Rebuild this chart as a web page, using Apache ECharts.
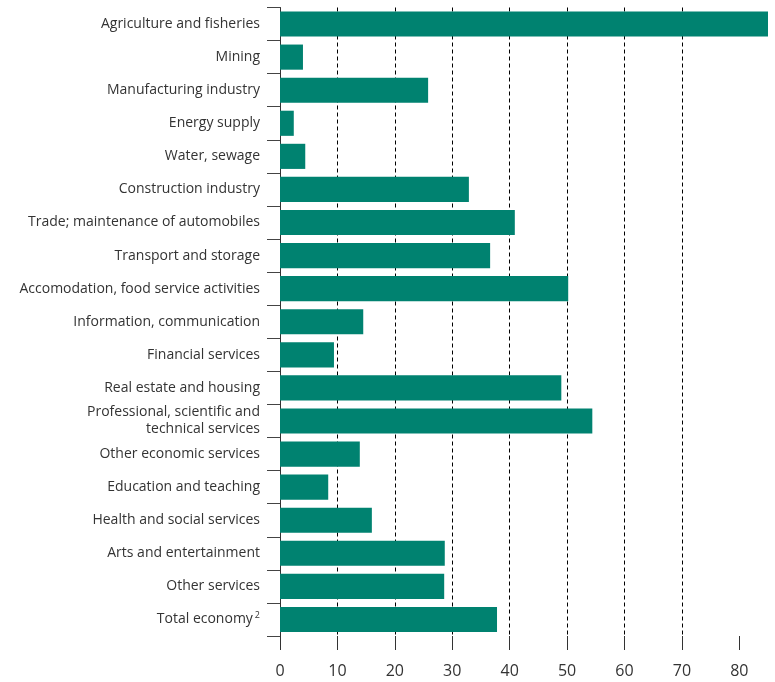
<!DOCTYPE html>
<html><head><meta charset="utf-8">
<script src="https://cdn.jsdelivr.net/npm/echarts@6/dist/echarts.min.js"></script>
<style>html,body{margin:0;padding:0;background:#fff}#c{width:775px;height:682px}</style>
</head><body><div id="c"></div>
<script>
const categories = [
  "Agriculture and fisheries","Mining","Manufacturing industry","Energy supply","Water, sewage",
  "Construction industry","Trade; maintenance of automobiles","Transport and storage",
  "Accomodation, food service activities","Information, communication","Financial services",
  "Real estate and housing","Professional, scientific and\ntechnical services","Other economic services",
  "Education and teaching","Health and social services","Arts and entertainment","Other services",
  "Total economy"
];
const values = [85, 4.0, 25.8, 2.4, 4.4, 32.9, 40.9, 36.6, 50.2, 14.5, 9.4, 49.0, 54.4, 13.9, 8.4, 16.0, 28.7, 28.6, 37.8];
const xTicks = [0,10,20,30,40,50,60,70,80];
const xMax = 85;

const chart = echarts.init(document.getElementById('c'), null, {renderer:'canvas'});
const font = '"Open Sans", sans-serif';
chart.setOption({
  animation:false,
  grid:{left:280,right:7,top:7.5,bottom:46,containLabel:false},
  xAxis:{type:'value',min:0,max:xMax,interval:10,
    axisLine:{show:false},
    axisTick:{show:true,length:14,inside:false,customValues:xTicks,lineStyle:{color:'#333',width:1}},
    axisLabel:{customValues:xTicks,margin:27,color:'#333',fontFamily:font,fontSize:16},
    splitLine:{show:true,showMinLine:false,showMaxLine:false,lineStyle:{color:'#000',type:[4,3],width:1}}
  },
  yAxis:{type:'category',inverse:true,data:categories,
    axisLine:{show:true,lineStyle:{color:'#333',width:1}},
    axisTick:{show:true,length:13,alignWithLabel:false,lineStyle:{color:'#444'}},
    axisLabel:{margin:20,color:'#333',fontFamily:font,fontSize:14,lineHeight:17,
      formatter:function(v){return v==='Total economy' ? v+'{sup|2}' : v;},
      rich:{sup:{fontSize:9,verticalAlign:'top',padding:[0,0,14,2],fontFamily:font,color:'#333'}}}
  },
  series:[{type:'bar',data:values,barCategoryGap:'24%',itemStyle:{color:'#008270'},clip:true}]
});
</script></body></html>
